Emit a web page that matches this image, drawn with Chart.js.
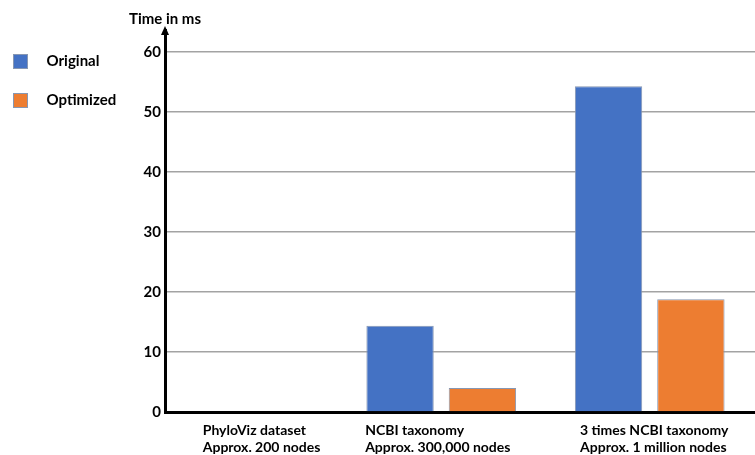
<!DOCTYPE html>
<html>
<head>
<meta charset="utf-8">
<title>Time in ms</title>
<script src="https://cdn.jsdelivr.net/npm/chart.js@4/dist/chart.umd.min.js"></script>
<style>
  html, body { margin: 0; padding: 0; background: #ffffff; }
  canvas { display: block; }
</style>
</head>
<body>
<canvas id="chart" width="755" height="455"></canvas>
<script>
// ---- data ----
const categories = [
  ['PhyloViz dataset', 'Approx. 200 nodes'],
  ['NCBI taxonomy', 'Approx. 300,000 nodes'],
  ['3 times NCBI taxonomy', 'Approx. 1 million nodes']
];
const seriesNames = ['Original', 'Optimized'];
const originalMs = [0, 14.4, 54.3];
const optimizedMs = [0, 4.0, 18.8];
const yTicks = [0, 10, 20, 30, 40, 50, 60];
const valueAxisTitle = 'Time in ms';

// ---- styling / layout ----
const FONT = 'Lato, "Open Sans", "DejaVu Sans", sans-serif';
const colors = ['#4472C4', '#ED7D31'];
const barEdge = '#8797b2';
const plotLeft = 165;          // x of the value axis
const padLeft = -22;           // pulls the legend column towards the edge
const captionBand = 43;        // height of the category caption band
const xRange = { min: -0.325, max: 2.505 };
const captionShift = [-0.144, -0.365, -0.334]; // caption start relative to its group

function swatch(fill) {
  const c = document.createElement('canvas');
  c.width = 15; c.height = 15;
  const g = c.getContext('2d');
  g.fillStyle = fill;
  g.fillRect(0, 0, 15, 15);
  g.strokeStyle = barEdge;
  g.lineWidth = 1;
  g.strokeRect(0.5, 0.5, 14, 14);
  return c;
}

// arrow head on top of the value axis and its title
const axisArrow = {
  id: 'axisArrow',
  afterDraw(chart) {
    const { ctx, chartArea } = chart;
    const x = chart.scales.y.right;
    const top = chartArea.top;
    ctx.save();
    ctx.fillStyle = '#000';
    ctx.beginPath();
    ctx.moveTo(x, top - 4);
    ctx.lineTo(x + 4, top + 5);
    ctx.lineTo(x - 4, top + 5);
    ctx.closePath();
    ctx.fill();
    ctx.font = 'bold 15px ' + FONT;
    ctx.textAlign = 'center';
    ctx.textBaseline = 'middle';
    ctx.fillText(valueAxisTitle, x, top - 11);
    ctx.restore();
  }
};

function draw() {
  const series = [originalMs, optimizedMs];
  new Chart(document.getElementById('chart'), {
    type: 'bar',
    data: {
      datasets: series.map((values, s) => ({
        label: seriesNames[s],
        data: values.map((v, i) => ({ x: i, y: v })),
        backgroundColor: colors[s],
        borderColor: barEdge,
        borderWidth: 1,
        pointStyle: swatch(colors[s]),
        categoryPercentage: 0.79,
        barPercentage: 0.818
      }))
    },
    options: {
      responsive: false,
      animation: false,
      devicePixelRatio: 1,
      layout: { padding: { left: padLeft, top: 30, right: 0, bottom: 0 } },
      plugins: {
        tooltip: { enabled: false },
        legend: {
          position: 'left',
          align: 'start',
          labels: {
            usePointStyle: true,
            pointStyleWidth: 37,
            padding: 24,
            color: '#000',
            font: { family: FONT, size: 15, weight: 'bold' }
          }
        }
      },
      scales: {
        x: {
          type: 'linear',
          display: false,
          offset: false,
          min: xRange.min,
          max: xRange.max,
          afterBuildTicks: s => { s.ticks = categories.map((_, i) => ({ value: i })); },
          grid: { display: false }
        },
        xl: {
          type: 'linear',
          axis: 'x',
          position: 'bottom',
          offset: false,
          min: xRange.min,
          max: xRange.max,
          afterBuildTicks: s => {
            s.ticks = categories.map((_, i) => ({ value: i + captionShift[i] }));
          },
          afterFit: s => { s.height = captionBand; },
          grid: { display: false, drawTicks: false },
          border: { display: true, color: '#000', width: 3 },
          ticks: {
            autoSkip: false,
            maxRotation: 0,
            align: 'start',
            padding: 10,
            color: '#000',
            font: { family: FONT, size: 14, weight: 'bold' },
            callback: (v, i) => categories[i]
          }
        },
        y: {
          min: 0,
          max: 63.7,
          afterBuildTicks: s => { s.ticks = yTicks.map(v => ({ value: v })); },
          afterFit: s => { s.width = plotLeft - padLeft - s.chart.legend.width; },
          grid: { color: '#a3a3a3', lineWidth: 1.5, drawTicks: false },
          border: { display: true, color: '#000', width: 3 },
          ticks: {
            padding: 4,
            color: '#000',
            font: { family: FONT, size: 15, weight: 'bold' }
          }
        }
      }
    },
    plugins: [axisArrow]
  });
}

if (document.fonts && document.fonts.load) {
  Promise.all([
    document.fonts.load('bold 15px Lato'),
    document.fonts.load('bold 14px Lato')
  ]).then(draw, draw);
} else {
  draw();
}
</script>
</body>
</html>
